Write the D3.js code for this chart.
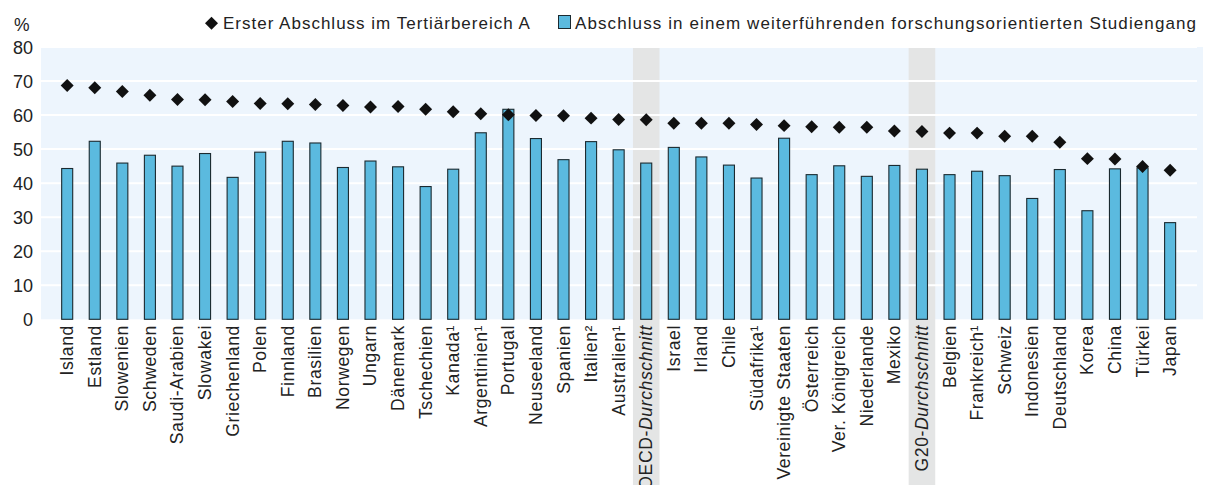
<!DOCTYPE html>
<html><head><meta charset="utf-8">
<script src="https://cdn.jsdelivr.net/npm/d3@7"></script>
<style>body{margin:0;background:#fff;} text{font-family:"Liberation Sans",Arial,sans-serif;fill:#222;}</style>
</head><body><svg id="c" width="1208" height="485"></svg>
<script>
const categories=["Island","Estland","Slowenien","Schweden","Saudi-Arabien","Slowakei","Griechenland","Polen","Finnland","Brasilien","Norwegen","Ungarn","Dänemark","Tschechien","Kanada¹","Argentinien¹","Portugal","Neuseeland","Spanien","Italien²","Australien¹","OECD-Durchschnitt","Israel","Irland","Chile","Südafrika¹","Vereinigte Staaten","Österreich","Ver. Königreich","Niederlande","Mexiko","G20-Durchschnitt","Belgien","Frankreich¹","Schweiz","Indonesien","Deutschland","Korea","China","Türkei","Japan"];
const firstDegree=[68.7,68.0,66.9,65.8,64.6,64.5,64.0,63.4,63.3,63.1,62.8,62.4,62.5,61.7,61.0,60.4,60.1,59.9,59.8,59.1,58.7,58.6,57.6,57.6,57.6,57.2,56.9,56.6,56.4,56.4,55.3,55.2,54.7,54.7,53.8,53.8,52.0,47.2,47.1,44.9,43.8];
const masterDegree=[44.3,52.3,45.9,48.2,45.0,48.7,41.7,49.1,52.3,51.8,44.6,46.5,44.8,39.0,44.1,54.8,61.7,53.1,46.9,52.2,49.8,45.9,50.5,47.7,45.3,41.5,53.2,42.5,45.1,42.0,45.2,44.1,42.5,43.5,42.2,35.5,44.0,31.9,44.2,44.5,28.4];
const averages=["OECD-Durchschnitt","G20-Durchschnitt"];
const yTicks=[0,10,20,30,40,50,60,70,80];
const legendLabels=["Erster Abschluss im Tertiärbereich A","Abschluss in einem weiterführenden forschungsorientierten Studiengang"];

const svg=d3.select("#c");
const plotL=41,plotR=1203,plotT=47,plotB=319.3;
const x=d3.scaleBand().domain(categories).range([53.4,1183.9]).paddingInner(0.6).paddingOuter(0.3);
const y=d3.scaleLinear().domain([0,80]).range([plotB,plotT]);

svg.append("rect").attr("x",plotL).attr("y",plotT).attr("width",plotR-plotL).attr("height",plotB-plotT).attr("fill","#edf5fd");
svg.selectAll(".shade").data(averages).join("rect")
 .attr("x",d=>x(d)+x.bandwidth()/2-x.step()/2+0.5).attr("width",x.step()-1)
 .attr("y",plotT).attr("height",485-plotT).attr("fill","#e4e5e5");
svg.selectAll(".grid").data(yTicks.filter(d=>d>0)).join("line")
 .attr("x1",plotL).attr("x2",1197).attr("y1",d=>y(d)).attr("y2",d=>y(d))
 .attr("stroke","#fff").attr("stroke-width",2);
svg.selectAll(".yt").data(yTicks).join("text")
 .attr("x",33).attr("y",d=>y(d)+7).attr("text-anchor","end").attr("font-size",18).text(d=>d);
svg.append("text").attr("x",14).attr("y",31).attr("font-size",17.5).text("%");
svg.selectAll(".bar").data(categories).join("rect")
 .attr("x",(d)=>x(d)).attr("width",x.bandwidth())
 .attr("y",(d,i)=>y(masterDegree[i])).attr("height",(d,i)=>y(0)-y(masterDegree[i]))
 .attr("fill","#5bbadf").attr("stroke","#1b2a30").attr("stroke-width",1.1);
const sym=d3.symbol().type(d3.symbolSquare).size(84);
svg.selectAll(".dia").data(categories).join("path")
 .attr("d",sym).attr("fill","#111")
 .attr("transform",(d,i)=>`translate(${x(d)+x.bandwidth()/2},${y(firstDegree[i])}) rotate(45)`);
const xl=svg.selectAll(".xl").data(categories).join("text")
 .attr("transform",d=>`translate(${x(d)+x.bandwidth()/2+6},325) rotate(-90)`)
 .attr("text-anchor","end").attr("font-size",17.6).attr("letter-spacing",0.6);
xl.each(function(d){
  const t=d3.select(this);
  if(averages.includes(d)){
    const p=d.split("-");
    t.append("tspan").text(p[0]+"-");
    t.append("tspan").attr("font-style","italic").text(p[1]);
  } else t.text(d);
});
svg.append("path").attr("d",sym).attr("fill","#111").attr("transform","translate(211.5,23.3) rotate(45)");
svg.append("text").attr("x",223).attr("y",29).attr("font-size",17).attr("letter-spacing",1.0).text(legendLabels[0]);
svg.append("rect").attr("x",558.5).attr("y",15.5).attr("width",12).attr("height",13).attr("fill","#5bbadf").attr("stroke","#1b2a30").attr("stroke-width",1);
svg.append("text").attr("x",575).attr("y",29).attr("font-size",17).attr("letter-spacing",1.1).text(legendLabels[1]);
</script></body></html>
